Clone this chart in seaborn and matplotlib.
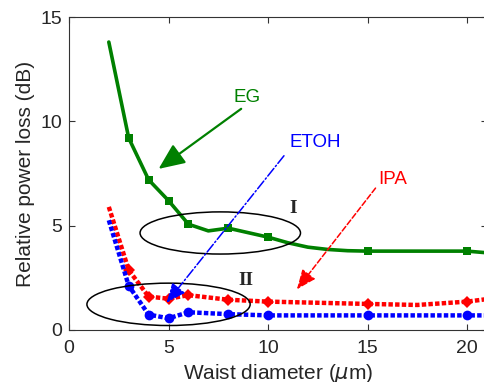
import matplotlib
matplotlib.use("Agg")
import matplotlib.pyplot as plt
from matplotlib.patches import Ellipse
import seaborn as sns

# ---- data ----
eg_x = [2, 3, 4, 5, 6, 7, 8, 10, 11, 12, 13, 14, 15, 20, 21]
eg_y = [13.8, 9.2, 7.2, 6.2, 5.07, 4.75, 4.88, 4.45, 4.18, 3.97, 3.86, 3.8, 3.78, 3.78, 3.7]
eg_marks = [3, 4, 5, 6, 8, 10, 15, 20]

ipa_x = [2, 3, 4, 5, 6, 8, 10, 15, 17.5, 20, 21]
ipa_y = [5.9, 2.87, 1.6, 1.5, 1.67, 1.45, 1.36, 1.25, 1.2, 1.36, 1.48]
ipa_marks = [3, 4, 5, 6, 8, 10, 15, 20]

etoh_x = [2, 3, 4, 5, 6, 8, 10, 15, 20, 21]
etoh_y = [5.26, 2.12, 0.74, 0.56, 0.85, 0.76, 0.7, 0.7, 0.7, 0.7]
etoh_marks = [3, 4, 5, 6, 8, 10, 15, 20]

x_ticks = [0, 5, 10, 15, 20]
y_ticks = [0, 5, 10, 15]

sns.set_theme(style="ticks")
plt.rcParams['font.family'] = ['Liberation Sans', 'DejaVu Sans']
plt.rcParams['mathtext.fontset'] = 'dejavusans'

fig = plt.figure(figsize=(4.84, 3.82), dpi=100)
ax = fig.add_axes([69 / 484, 1 - 330 / 382, 418 / 484, 313 / 382])

def idx(xs, marks):
    return [i for i, v in enumerate(xs) if v in marks]

sns.lineplot(x=eg_x, y=eg_y, ax=ax, color='#008000', lw=2.6, marker='s',
             markersize=6, markeredgewidth=0, markevery=idx(eg_x, eg_marks),
             sort=False, estimator=None, zorder=4)
sns.lineplot(x=ipa_x, y=ipa_y, ax=ax, color='#ff0000', lw=3.2, marker='D',
             markersize=6.5, markeredgewidth=0, markevery=idx(ipa_x, ipa_marks),
             linestyle=(0, (1, 0.5)), sort=False, estimator=None, zorder=3)
sns.lineplot(x=etoh_x, y=etoh_y, ax=ax, color='#0000ff', lw=3.2, marker='o',
             markersize=7, markeredgewidth=0, markevery=idx(etoh_x, etoh_marks),
             linestyle=(0, (1, 0.5)), sort=False, estimator=None, zorder=3)

# annotations
ax.text(8.97, 11.15, 'EG', color='#008000', fontsize=13.5, ha='center', va='center')
ax.annotate('', xy=(4.5, 7.72), xytext=(8.65, 10.6),
            arrowprops=dict(arrowstyle='-|>,head_length=0.8,head_width=0.35',
                            color='#008000', lw=1.6, mutation_scale=20,
                            shrinkA=0, shrinkB=0), zorder=6)
ax.text(11.1, 9.0, 'ETOH', color='#0000ff', fontsize=13.5, ha='left', va='center')
ax.annotate('', xy=(4.9, 1.3), xytext=(10.8, 8.35),
            arrowprops=dict(arrowstyle='-|>,head_length=0.6,head_width=0.25',
                            color='#0000ff', lw=1.1, linestyle='-.', mutation_scale=20,
                            shrinkA=0, shrinkB=0), zorder=6)
ax.text(15.55, 7.2, 'IPA', color='#ff0000', fontsize=13.5, ha='left', va='center')
ax.annotate('', xy=(11.45, 1.95), xytext=(15.4, 6.8),
            arrowprops=dict(arrowstyle='-|>,head_length=0.6,head_width=0.25',
                            color='#ff0000', lw=1.1, linestyle='--', mutation_scale=20,
                            shrinkA=0, shrinkB=0), zorder=6)

ax.add_patch(Ellipse((7.6, 4.65), 8.06, 2.02, fill=False, ec='black', lw=1.1, zorder=5))
ax.add_patch(Ellipse((5.0, 1.23), 8.2, 2.03, fill=False, ec='black', lw=1.1, zorder=5))
ax.text(11.27, 5.82, 'I', fontsize=14, fontweight='bold', family='Liberation Serif',
        ha='center', va='center')
ax.text(8.87, 2.36, 'II', fontsize=14, fontweight='bold', family='Liberation Serif',
        ha='center', va='center')

ax.set_xlim(0, 21)
ax.set_ylim(0, 15)
ax.set_xticks(x_ticks)
ax.set_yticks(y_ticks)
ax.tick_params(direction='in', length=4, width=0.8, labelsize=14, color='#333333',
               top=True, right=True)
ax.tick_params(axis='x', pad=7)
ax.tick_params(axis='y', pad=5)
for s in ax.spines.values():
    s.set_linewidth(0.8)
    s.set_color('#333333')
ax.set_xlabel(r'Waist diameter ($\mu$m)', fontsize=15, labelpad=4)
ax.set_ylabel('Relative power loss (dB)', fontsize=15, labelpad=4)

fig.savefig('out.png', dpi=100)
